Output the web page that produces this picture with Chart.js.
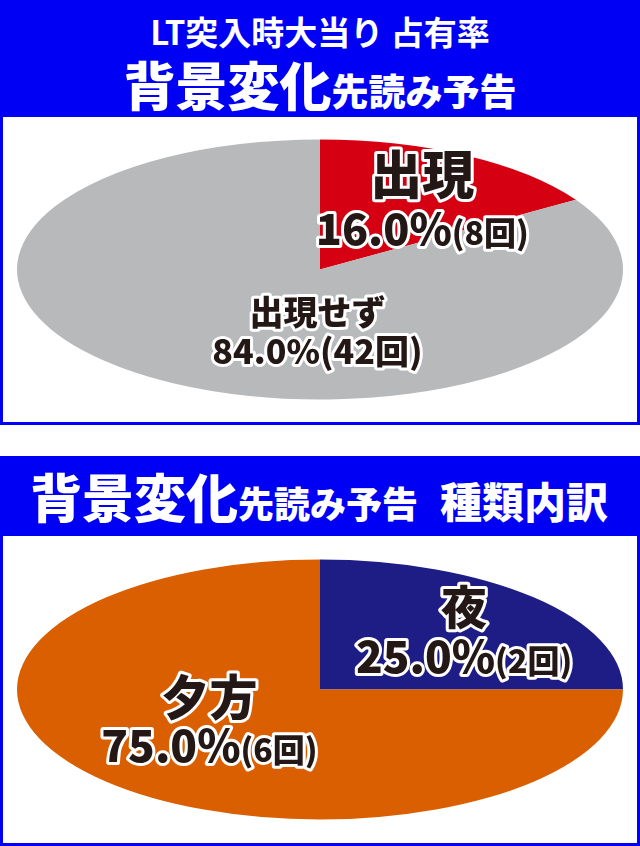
<!DOCTYPE html>
<html>
<head>
<meta charset="utf-8">
<script src="https://cdn.jsdelivr.net/npm/chart.js@4.4.1/dist/chart.umd.min.js"></script>
<style>
  html, body { margin: 0; padding: 0; background: #fff; }
  body { width: 640px; height: 846px; position: relative; overflow: hidden;
         font-family: "Noto Sans CJK JP", "Noto Sans", sans-serif; }
  .head { position: absolute; left: 0; width: 640px; background: #0000f5; color: #fff;
          font-weight: 900; text-align: center; white-space: nowrap; }
  .body { position: absolute; left: 0; width: 634px; background: #fff;
          border: 3px solid #0000f5; border-top: 0; }
  .line { position: absolute; left: 0; width: 640px; text-align: center; line-height: 1; }
</style>
</head>
<body>
<div class="head" style="top:0;height:117px;">
  <div class="line" style="top:15px;font-size:33px;font-weight:700;">LT突入時大当り 占有率</div>
  <div class="line" style="top:58px;"><span style="font-size:52px;">背景変化</span><span style="font-size:37px;">先読み予告</span></div>
</div>
<div class="body" style="top:117px;height:305px;"><canvas id="pie1"></canvas></div>

<div class="head" style="top:456px;height:80px;">
  <div class="line" style="top:14px;text-align:left;padding-left:30px;"><span style="font-size:52px;">背景変化</span><span style="font-size:36px;">先読み予告</span><span style="font-size:42px;margin-left:22px;">種類内訳</span></div>
</div>
<div class="body" style="top:536px;height:307px;"><canvas id="pie2"></canvas></div>

<script>
// 出現率
const pie1Labels = ['出現', '出現せず'];
const pie1Counts = [8, 42];
const pie1Percent = [16.0, 84.0];
const pie1Colors = ['#d50012', '#b8b9bb'];

// 種類内訳
const pie2Labels = ['夜', '夕方'];
const pie2Counts = [2, 6];
const pie2Percent = [25.0, 75.0];
const pie2Colors = ['#1d1d85', '#d95f00'];

var RX = 303, RY = 130;

// stretch the round pie into an ellipse
var squash = {
	id: 'squash',
	beforeDatasetsDraw: function(chart) {
		var arc = chart.getDatasetMeta(0).data[0], ctx = chart.ctx;
		ctx.save();
		ctx.translate(arc.x, arc.y);
		ctx.scale(RX / RY, 1);
		ctx.translate(-arc.x, -arc.y);
	},
	afterDatasetsDraw: function(chart) {
		chart.ctx.restore();
	}
};

function outlined(ctx, text, x, y, size) {
	ctx.font = '900 ' + size + 'px "Noto Sans CJK JP"';
	ctx.lineWidth = 6;
	ctx.lineJoin = 'round';
	ctx.strokeStyle = '#fff';
	ctx.strokeText(text, x, y);
	ctx.fillStyle = '#231815';
	ctx.fillText(text, x, y);
}

var sliceText = {
	id: 'sliceText',
	afterDraw: function(chart, args, opts) {
		var ctx = chart.ctx,
			meta = chart.getDatasetMeta(0),
			lbls = chart.data.labels,
			ds = chart.data.datasets[0];
		ctx.save();
		ctx.textBaseline = 'alphabetic';
		ctx.textAlign = 'left';
		meta.data.forEach(function(arc, i) {
			var s = opts.styles[i],
				a = s.angle * Math.PI / 180,
				cx = arc.x + Math.sin(a) * s.r * RX,
				cy = arc.y - Math.cos(a) * s.r * RY;

			// name
			ctx.font = '900 ' + s.name + 'px "Noto Sans CJK JP"';
			var w = ctx.measureText(lbls[i]).width;
			outlined(ctx, lbls[i], cx - w / 2, cy - s.gap / 2 + s.name * 0.38, s.name);

			// value + count
			var pct = ds.pct[i].toFixed(1) + '%',
				cnt = '(' + ds.data[i] + '回)';
			ctx.font = '900 ' + s.val + 'px "Noto Sans CJK JP"';
			var w1 = ctx.measureText(pct).width;
			ctx.font = '900 ' + s.cnt + 'px "Noto Sans CJK JP"';
			var w2 = ctx.measureText(cnt).width;
			var x0 = cx - (w1 + w2) / 2,
				base = cy + s.gap / 2 + s.val * 0.36;
			outlined(ctx, pct, x0, base, s.val);
			outlined(ctx, cnt, x0 + w1, base, s.cnt);
		});
		ctx.restore();
	}
};

function makePie(id, labels, counts, pct, colors, styles) {
	return new Chart(document.getElementById(id), {
		type: 'pie',
		data: {
			labels: labels,
			datasets: [{
				data: counts,
				pct: pct,
				backgroundColor: colors,
				borderWidth: 0,
				radius: RY
			}]
		},
		options: {
			responsive: true,
			maintainAspectRatio: false,
			animation: false,
			layout: { padding: 0 },
			plugins: {
				legend: { display: false },
				tooltip: { enabled: false },
				sliceText: { styles: styles }
			}
		},
		plugins: [squash, sliceText]
	});
}

makePie('pie1', pie1Labels, pie1Counts, pie1Percent, pie1Colors, [
	{ angle: 33, r: 0.62, name: 52, val: 43, cnt: 32, gap: 55 },
	{ angle: 181, r: 0.48, name: 34, val: 34, cnt: 34, gap: 40 }
]);
makePie('pie2', pie2Labels, pie2Counts, pie2Percent, pie2Colors, [
	{ angle: 47, r: 0.65, name: 46, val: 44, cnt: 32, gap: 50 },
	{ angle: 236, r: 0.44, name: 48, val: 44, cnt: 32, gap: 50 }
]);
</script>
</body>
</html>
